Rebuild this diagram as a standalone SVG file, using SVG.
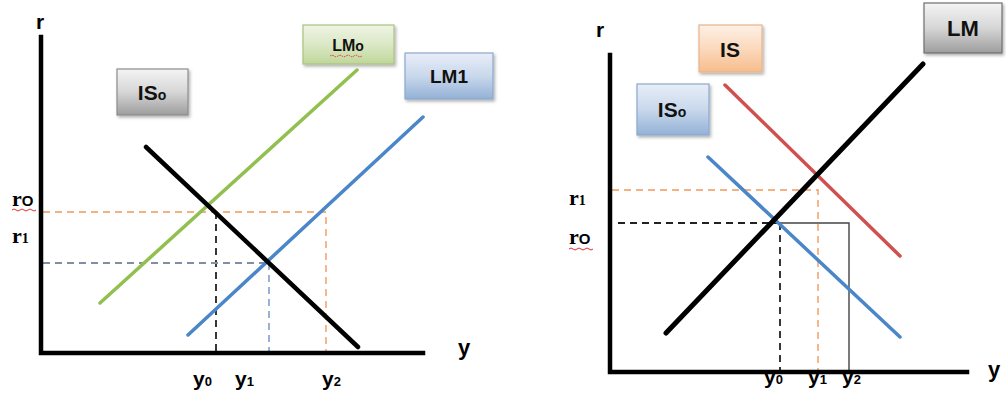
<svg xmlns="http://www.w3.org/2000/svg" width="1006" height="396" viewBox="0 0 1006 396">
<style>
.ax{stroke:#000;stroke-width:4.5;fill:none;stroke-linecap:square}
.crv{fill:none;stroke-linecap:round}
.dsh{fill:none;stroke-width:1.8;stroke-dasharray:7 5}
.or{stroke:#f4b183}
.gb{stroke:#7f8fa6}
.bk{stroke:#222}
.lbl{font-family:"Liberation Sans",Arial,sans-serif;font-weight:bold;fill:#000}
.rl{font-family:"Liberation Serif","Times New Roman",serif;font-weight:bold;fill:#000}
.box{stroke-width:1.2;filter:url(#sh)}
.bt{font-family:"Liberation Sans",Arial,sans-serif;font-weight:bold;fill:#111;text-anchor:middle}
.wave{fill:none;stroke:#e03030;stroke-width:1}
</style>
<defs>
<filter id="sh" x="-20%" y="-20%" width="140%" height="150%">
<feDropShadow dx="1.5" dy="2" stdDeviation="1.5" flood-color="#000" flood-opacity="0.3"/>
</filter>
<linearGradient id="gGray" x1="0" y1="0" x2="0" y2="1">
<stop offset="0" stop-color="#f4f4f4"/><stop offset="0.5" stop-color="#d6d6d6"/><stop offset="1" stop-color="#9d9d9d"/>
</linearGradient>
<linearGradient id="gGreen" x1="0" y1="0" x2="0" y2="1">
<stop offset="0" stop-color="#eef4e3"/><stop offset="0.5" stop-color="#dbe8c6"/><stop offset="1" stop-color="#c0d69a"/>
</linearGradient>
<linearGradient id="gBlue" x1="0" y1="0" x2="0" y2="1">
<stop offset="0" stop-color="#e8eef7"/><stop offset="0.5" stop-color="#c9d8ec"/><stop offset="1" stop-color="#93b1d6"/>
</linearGradient>
<linearGradient id="gOrange" x1="0" y1="0" x2="0" y2="1">
<stop offset="0" stop-color="#fdf0e6"/><stop offset="0.5" stop-color="#fbd9bd"/><stop offset="1" stop-color="#f7bd8c"/>
</linearGradient>
</defs>
<rect width="1006" height="396" fill="#fff"/>

<!-- LEFT PANEL -->
<g id="left-guides">
<path class="dsh or" d="M43 212 H326 V353"/>
<path class="dsh bk" d="M216 212 V353"/>
<path class="dsh gb" d="M43 263 H269"/>
<path class="dsh" stroke="#8fa9d0" d="M269 263 V353"/>
</g>
<g id="left-curves">
<path id="lm0-line" class="crv" stroke="#92c050" stroke-width="3.5" d="M100 303 L357 70"/>
<path id="lm1-line" class="crv" stroke="#4a86c8" stroke-width="3.5" d="M188 335 L423 117"/>
<path id="is0-line" class="crv" stroke="#000" stroke-width="4.5" d="M146 147 L358 347"/>
</g>
<g id="left-axes">
<path class="ax" d="M41 37 V353 H423"/>
</g>
<g id="left-labels">
<text class="lbl" x="40" y="29" font-size="21" text-anchor="middle">r</text>
<text class="lbl" x="458" y="355" font-size="22">y</text>
<text class="rl" x="12" y="206" font-size="22">r<tspan font-size="15" font-family="Liberation Sans,Arial,sans-serif">O</tspan></text>
<path class="wave" d="M12 210 q2 -2 4 0 t4 0 t4 0 t4 0 t4 0 t4 0"/>
<text class="rl" x="12" y="243" font-size="22">r<tspan font-size="14">1</tspan></text>
<text class="lbl" x="193" y="386" font-size="21">y<tspan font-size="13">0</tspan></text>
<text class="lbl" x="235" y="386" font-size="21">y<tspan font-size="13">1</tspan></text>
<text class="lbl" x="322" y="386" font-size="21">y<tspan font-size="13">2</tspan></text>
</g>
<g id="node-IS0-left">
<rect class="box" x="117" y="69" width="71" height="46" fill="url(#gGray)" stroke="#8c8c8c"/>
<text class="bt" x="152" y="100" font-size="21">IS<tspan font-size="14">o</tspan></text>
</g>
<g id="node-LM0">
<rect class="box" x="303" y="25" width="91" height="39" fill="url(#gGreen)" stroke="#a9c47f"/>
<text class="bt" x="348" y="51" font-size="16">LM<tspan font-size="14">o</tspan></text>
<path class="wave" stroke-dasharray="1.5 1" d="M330 56 q2 -1.5 4 0 t4 0 t4 0 t4 0 t4 0 t4 0 t4 0 t4 0"/>
</g>
<g id="node-LM1">
<rect class="box" x="405" y="53" width="88" height="46" fill="url(#gBlue)" stroke="#8aa9cf"/>
<text class="bt" x="449" y="83" font-size="19">LM1</text>
</g>

<!-- RIGHT PANEL -->
<g id="right-guides">
<path class="dsh or" d="M612 190 H818 V372"/>
<path class="dsh bk" d="M618 223 H780"/>
<path class="dsh bk" stroke-dasharray="5 3" d="M780 223 V372"/>
<path fill="none" stroke="#444" stroke-width="1.4" d="M780 223 H849 V372"/>
</g>
<g id="right-curves">
<path id="is-line" class="crv" stroke="#d05050" stroke-width="3.5" d="M725 85 L900 256"/>
<path id="is0r-line" class="crv" stroke="#4a86c8" stroke-width="3.5" d="M708 157 L900 337"/>
<path id="lm-line" class="crv" stroke="#000" stroke-width="5" d="M666 333 L923 64"/>
</g>
<g id="right-axes">
<path class="ax" d="M610 55 V372 H967"/>
</g>
<g id="right-labels">
<text class="lbl" x="600" y="37" font-size="21" text-anchor="middle">r</text>
<text class="lbl" x="988" y="377" font-size="22">y</text>
<text class="rl" x="569" y="205" font-size="22">r<tspan font-size="14">1</tspan></text>
<text class="rl" x="569" y="244" font-size="22">r<tspan font-size="15" font-family="Liberation Sans,Arial,sans-serif">O</tspan></text>
<path class="wave" d="M569 249 q2 -2 4 0 t4 0 t4 0 t4 0 t4 0 t4 0"/>
<text class="lbl" x="764" y="384" font-size="21">y<tspan font-size="13">0</tspan></text>
<text class="lbl" x="808" y="384" font-size="21">y<tspan font-size="13">1</tspan></text>
<text class="lbl" x="842" y="384" font-size="21">y<tspan font-size="13">2</tspan></text>
</g>
<g id="node-IS">
<rect class="box" x="699" y="25" width="63" height="47" fill="url(#gOrange)" stroke="#e8b48a"/>
<text class="bt" x="730" y="57" font-size="21">IS</text>
</g>
<g id="node-IS0-right">
<rect class="box" x="637" y="84" width="72" height="51" fill="url(#gBlue)" stroke="#8aa9cf"/>
<text class="bt" x="672" y="117" font-size="21">IS<tspan font-size="14">o</tspan></text>
</g>
<g id="node-LM">
<rect class="box" x="924" y="3" width="78" height="50" fill="url(#gGray)" stroke="#6f6f6f"/>
<text class="bt" x="963" y="36" font-size="22">LM</text>
</g>
</svg>
